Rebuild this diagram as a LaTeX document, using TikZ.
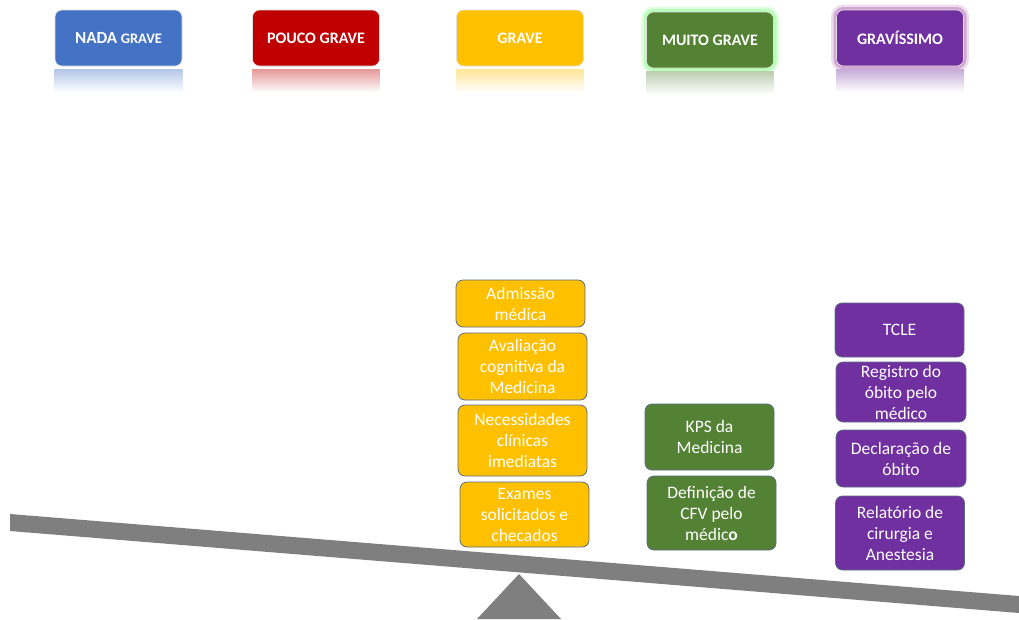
\documentclass[tikz,border=0pt]{standalone}
\usepackage{fontspec}
\setmainfont{Carlito}
\definecolor{nadablue}{HTML}{4472C4}
\definecolor{poucored}{HTML}{C00000}
\definecolor{graveyellow}{HTML}{FFC000}
\definecolor{muitogreen}{HTML}{548235}
\definecolor{gravpurple}{HTML}{7030A0}
\definecolor{beamgray}{HTML}{7F7F7F}
\definecolor{edgeslate}{HTML}{5B6D82}
\begin{document}
\begin{tikzpicture}[x=1pt,y=-1pt,
    level/.style={rectangle, rounded corners=7pt, minimum width=127pt, minimum height=56pt,
      text=white, draw=black!12, line width=0.6pt, font=\bfseries\fontsize{16}{19}\selectfont},
    task/.style={rectangle, rounded corners=7pt, minimum width=129pt, inner sep=0pt,
      text=white, align=center, draw=edgeslate, line width=0.8pt, font=\fontsize{17.5}{21}\selectfont},
    glow/.style={preaction={draw=#1, line width=11pt, opacity=0.25},
      preaction={draw=#1, line width=6pt, opacity=0.5}}]
    \useasboundingbox (0,0) rectangle (1019,619);

    \node[level, fill=nadablue] (nada) at (118.5,38) {{\fontsize{17}{19}\selectfont NADA} {\fontsize{14.5}{19}\selectfont GRAVE}};
    \node[level, fill=poucored] (pouco) at (316,38) {POUCO GRAVE};
    \node[level, fill=graveyellow] (grave) at (520,38) {GRAVE};
    \node[level, fill=muitogreen, glow=green!45!white] (muito) at (710,40) {MUITO GRAVE};
    \node[level, fill=gravpurple, glow=violet!55!white] (gravissimo) at (900,38) {GRAVÍSSIMO};

    \foreach \n/\c in {nada/nadablue, pouco/poucored, grave/graveyellow, muito/muitogreen, gravissimo/gravpurple}
        \shade[top color=\c!40, bottom color=white] ([yshift=-3pt]\n.south west) rectangle ([yshift=-26pt]\n.south east);

    \node[task, fill=graveyellow, minimum height=47pt] (admissao) at (520.5,303.5) {Admissão\\médica};
    \node[task, fill=graveyellow, minimum height=67pt] (avaliacao) at (522.5,366.5) {Avaliação\\cognitiva da\\Medicina};
    \node[task, fill=graveyellow, minimum height=71pt] (necessidades) at (522.5,440.5) {Necessidades\\clínicas\\imediatas};
    \node[task, fill=graveyellow, minimum height=65pt] (exames) at (524.5,514.5) {Exames\\solicitados e\\checados};

    \node[task, fill=muitogreen, minimum height=66pt] (kps) at (709.5,437) {KPS da\\Medicina};
    \node[task, fill=muitogreen, minimum height=74pt] (cfv) at (711.5,513) {Definição de\\CFV pelo\\médic\textbf{o}};

    \node[task, fill=gravpurple, minimum height=54pt] (tcle) at (899.5,330) {TCLE};
    \node[task, fill=gravpurple, minimum height=60pt, minimum width=130pt] (registro) at (901,392) {Registro do\\óbito pelo\\médico};
    \node[task, fill=gravpurple, minimum height=57pt, minimum width=130pt] (declaracao) at (901,458.5) {Declaração de\\óbito};
    \node[task, fill=gravpurple, minimum height=74pt] (relatorio) at (900,533) {Relatório de\\cirurgia e\\Anestesia};

    \fill[beamgray] (10,514) -- (1019,596) -- (1019,613) -- (10,531) -- cycle;
    \fill[beamgray] (519,574) -- (561,619) -- (477,619) -- cycle;
\end{tikzpicture}
\end{document}
